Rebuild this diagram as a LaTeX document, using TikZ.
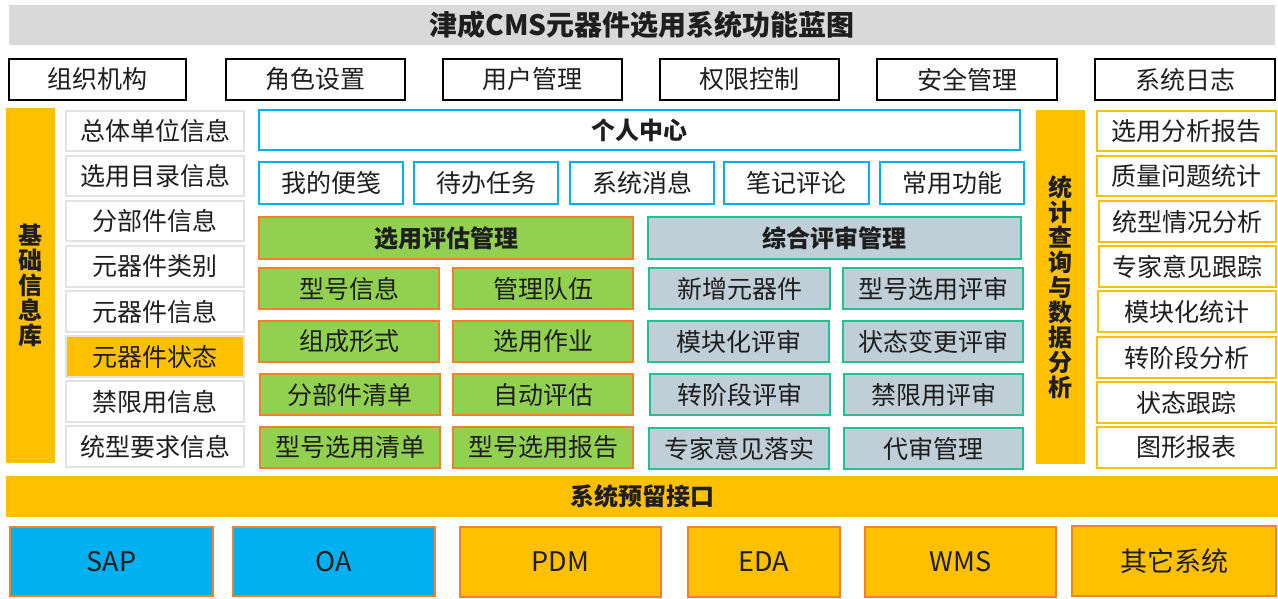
\documentclass[tikz,border=0pt]{standalone}
\usepackage{fontspec}
\setmainfont{Noto Sans CJK SC}
\definecolor{titlegray}{HTML}{D9D9D9}
\definecolor{skyblue}{HTML}{00B0F0}
\definecolor{amber}{HTML}{FFC000}
\definecolor{leaf}{HTML}{92D050}
\definecolor{rust}{HTML}{F57F2A}
\definecolor{slate}{HTML}{C0CFD7}
\definecolor{teal2}{HTML}{25C08F}
\definecolor{lightline}{HTML}{E2E2E2}
\definecolor{ink}{HTML}{1E1E1E}
\newcommand\mybox[7]{\node[#2, minimum width={#5-#3}, minimum height={#6-#4}] (#1) at ({(#3+#5)/2},{(#4+#6)/2}) {#7};}
\tikzset{
  base/.style={inner sep=0pt, outer sep=0pt, text=ink, font=\fontsize{25}{26}\selectfont},
  topbox/.style={base, draw=black, line width=1.3pt, fill=white},
  libbox/.style={base, draw=lightline, line width=2.5pt, fill=white},
  libsel/.style={base, draw=lightline, line width=2.5pt, fill=amber},
  bluebox/.style={base, draw=skyblue, line width=2.5pt, fill=white},
  greenbox/.style={base, draw=rust, line width=2.5pt, fill=leaf},
  slatebox/.style={base, draw=teal2, line width=2.5pt, fill=slate},
  statbox/.style={base, draw=amber, line width=2.5pt, fill=white},
  bar/.style={base, fill=amber, font=\bfseries\fontsize{24}{25}\selectfont, align=center},
  head/.style={font=\bfseries\fontsize{24}{25}\selectfont},
  extblue/.style={base, draw=rust, line width=2.5pt, fill=skyblue, font=\fontsize{27}{28}\selectfont},
  extamber/.style={base, draw=rust, line width=2.5pt, fill=amber, font=\fontsize{27}{28}\selectfont},
}
\begin{document}
\begin{tikzpicture}[x=1pt,y=-1pt]
\useasboundingbox (0,0) rectangle (1278,599);
% title
\mybox{title}{base, fill=titlegray, font=\bfseries\fontsize{28}{30}\selectfont}{9}{5}{1275}{45}{津成CMS元器件选用系统功能蓝图}
% top row
\mybox{org}{topbox}{9}{59}{186}{100}{组织机构}
\mybox{role}{topbox}{226}{59}{405}{100}{角色设置}
\mybox{user}{topbox}{443}{59}{622}{100}{用户管理}
\mybox{perm}{topbox}{660}{59}{839}{100}{权限控制}
\mybox{sec}{topbox}{877}{59}{1057}{100}{安全管理}
\mybox{log}{topbox}{1095}{59}{1275}{100}{系统日志}
% left bar
\mybox{libbar}{bar}{6}{108}{55}{463}{基\\础\\信\\息\\库}
% library column
\mybox{l1}{libbox}{66}{111}{244}{151}{总体单位信息}
\mybox{l2}{libbox}{66}{156}{244}{196}{选用目录信息}
\mybox{l3}{libbox}{66}{201}{244}{241}{分部件信息}
\mybox{l4}{libbox}{66}{246}{244}{287}{元器件类别}
\mybox{l5}{libbox}{66}{291}{244}{332}{元器件信息}
\mybox{l6}{libsel}{66}{336}{244}{377}{元器件状态}
\mybox{l7}{libbox}{66}{381}{244}{422}{禁限用信息}
\mybox{l8}{libbox}{66}{426}{244}{467}{统型要求信息}
% personal center
\mybox{pc}{bluebox, head}{259}{110}{1020}{150}{个人中心}
\mybox{p1}{bluebox}{259}{162}{403}{204}{我的便笺}
\mybox{p2}{bluebox}{414}{162}{558}{204}{待办任务}
\mybox{p3}{bluebox}{570}{162}{714}{204}{系统消息}
\mybox{p4}{bluebox}{724}{162}{869}{204}{笔记评论}
\mybox{p5}{bluebox}{880}{162}{1024}{204}{常用功能}
% selection evaluation
\mybox{se}{greenbox, head}{259}{217}{633}{259}{选用评估管理}
\mybox{g11}{greenbox}{259}{268}{439}{309}{型号信息}
\mybox{g12}{greenbox}{453}{268}{633}{309}{管理队伍}
\mybox{g21}{greenbox}{259}{321}{439}{362}{组成形式}
\mybox{g22}{greenbox}{453}{321}{633}{362}{选用作业}
\mybox{g31}{greenbox}{260}{374}{440}{415}{分部件清单}
\mybox{g32}{greenbox}{453}{374}{633}{415}{自动评估}
\mybox{g41}{greenbox}{260}{427}{440}{468}{型号选用清单}
\mybox{g42}{greenbox}{453}{427}{633}{468}{型号选用报告}
% review
\mybox{rv}{slatebox, head}{648}{217}{1021}{259}{综合评审管理}
\mybox{r11}{slatebox}{649}{268}{830}{309}{新增元器件}
\mybox{r12}{slatebox}{843}{268}{1023}{309}{型号选用评审}
\mybox{r21}{slatebox}{648}{321}{829}{362}{模块化评审}
\mybox{r22}{slatebox}{843}{321}{1023}{362}{状态变更评审}
\mybox{r31}{slatebox}{650}{374}{830}{415}{转阶段评审}
\mybox{r32}{slatebox}{844}{374}{1023}{415}{禁限用评审}
\mybox{r41}{slatebox}{649}{428}{829}{469}{专家意见落实}
\mybox{r42}{slatebox}{844}{428}{1023}{469}{代审管理}
% right bar
\mybox{statbar}{bar}{1036}{110}{1085}{464}{统\\计\\查\\询\\与\\数\\据\\分\\析}
% stats column
\mybox{s1}{statbox}{1097}{111}{1276}{151}{选用分析报告}
\mybox{s2}{statbox}{1097}{156}{1276}{196}{质量问题统计}
\mybox{s3}{statbox}{1099}{201}{1276}{242}{统型情况分析}
\mybox{s4}{statbox}{1099}{246}{1276}{287}{专家意见跟踪}
\mybox{s5}{statbox}{1098}{291}{1276}{332}{模块化统计}
\mybox{s6}{statbox}{1097}{337}{1276}{378}{转阶段分析}
\mybox{s7}{statbox}{1097}{382}{1276}{423}{状态跟踪}
\mybox{s8}{statbox}{1097}{427}{1276}{468}{图形报表}
% interface bar
\mybox{iface}{bar}{6}{476}{1278}{517}{系统预留接口}
% external systems
\mybox{sap}{extblue}{10}{527}{213}{596}{SAP}
\mybox{oa}{extblue}{233}{527}{435}{596}{OA}
\mybox{pdm}{extamber}{460}{527}{661}{597}{PDM}
\mybox{eda}{extamber}{688}{527}{840}{597}{EDA}
\mybox{wms}{extamber}{865}{527}{1056}{597}{WMS}
\mybox{other}{extamber}{1072}{526}{1276}{596}{其它系统}
\end{tikzpicture}
\end{document}
